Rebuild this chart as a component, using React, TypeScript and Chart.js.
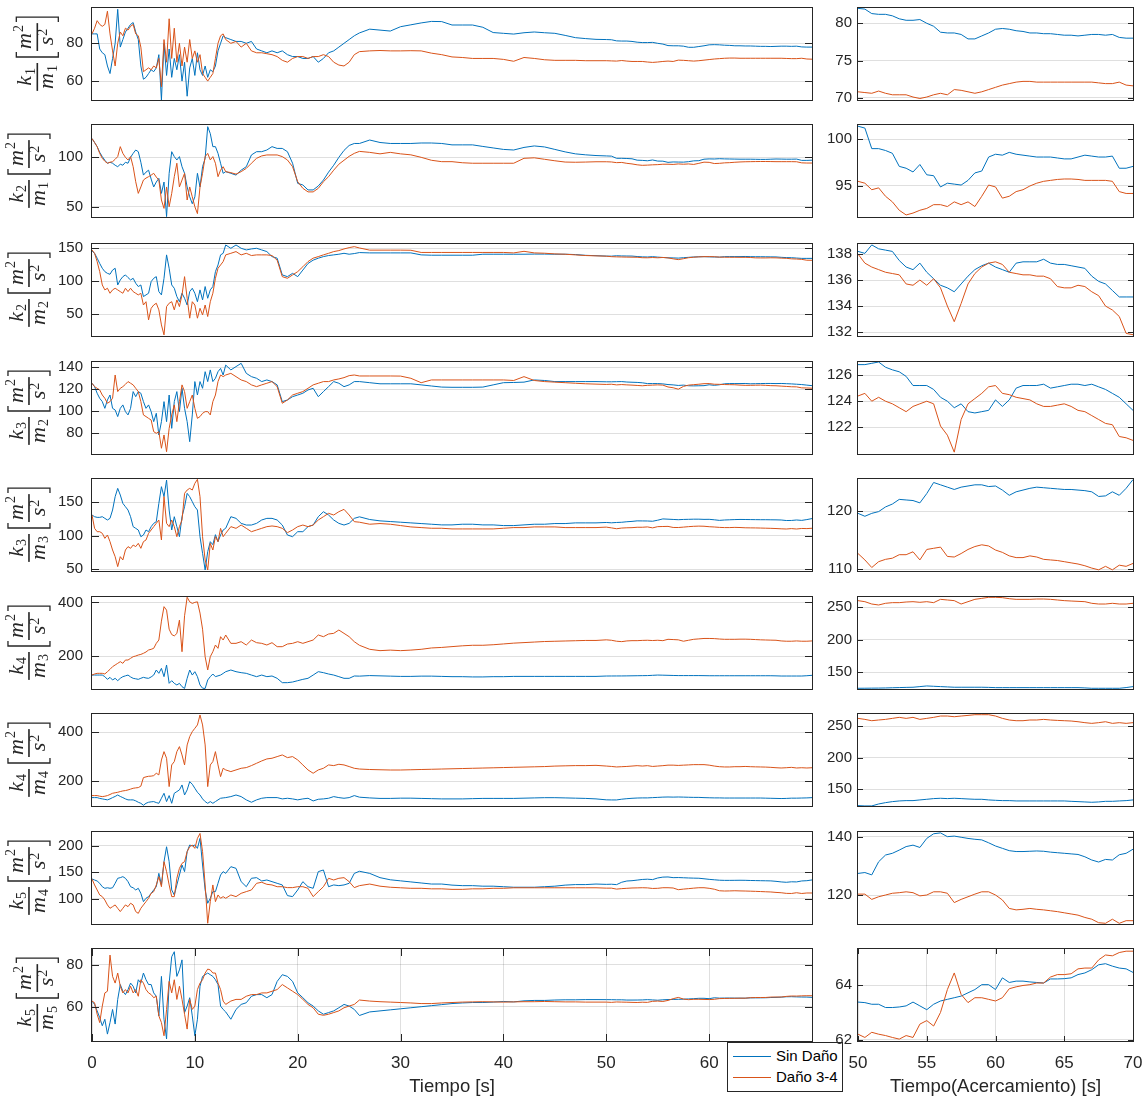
import React, { useEffect, useRef } from "react";
import { Chart, registerables } from "chart.js";
Chart.register(...registerables);

// ---------- time grid (seconds) ----------
const T_A = [0,0.25,0.5,0.75,1,1.25,1.5,1.75,2,2.25,2.5,2.75,3,3.25,3.5,3.75,4,4.25,4.5,4.75,5,5.25,5.5,5.75,6,6.25,6.5,6.75,7,7.25,7.5,7.75,8,8.25,8.5,8.75,9,9.25,9.5,9.75,10,10.25,10.5,10.75,11,11.25,11.5,11.75,12,12.25,12.5,12.75];
const T_B = [13,13.5,14,14.5,15,15.5,16,16.5,17,17.5,18,18.5,19,19.5,20,20.5,21,21.5,22,22.5,23,23.5,24,24.5,25,25.5];
const T_C = [26,27,28,29,30,31,32,33,34,35,36,37,38,39,40,41,42,43,44,45,46,47,48,49];
const T_D = [50,50.5,51,51.5,52,52.5,53,53.5,54,54.5,55,55.5,56,56.5,57,57.5,58,58.5,59,59.5,60,60.5,61,61.5,62,62.5,63,63.5,64,64.5,65,65.5,66,66.5,67,67.5,68,68.5,69,69.5,70];
const TIME = [...T_A, ...T_B, ...T_C, ...T_D];

// ---------- series: "Sin Daño" (blue) and "Daño 3-4" (orange) ----------
const R1_SIN = [
  85,85,85,77,75,74,68,64,72,80,98,78,82,86,88,90,91,86,82,68,61,62,64,66,65,67,74,50,80,63,77,62,72,66,74,60,70,52,67,72,63,75,66,63,68,62,66,65,68,76,80,84,
  83,82,81,81,80,81,77,76,75,76,75,76,74,73,73,72,72,73,70,72,75,76,78,80,82,84,
  85.5,87.5,87,86.5,88.8,89.8,90.8,91.6,91.5,89.7,89.7,89.7,88.5,85.7,85.3,84.9,85.6,86,85.6,85.3,84.2,83,82.5,82.1,
  82.0,81.9,81.3,81.2,81.2,81.0,80.6,80.4,80.4,80.5,80.0,79.6,78.8,78.7,78.7,78.5,77.9,77.9,78.3,78.7,79.2,79.3,79.2,79.0,78.9,78.7,78.7,78.6,78.6,78.5,78.4,78.4,78.3,78.4,78.5,78.5,78.4,78.5,78.1,78.0,78.0,
];
const R1_DANO = [
  85,88,92,90,89,90,97,85,76,68,80,86,84,88,87,89,90,85,84,78,65,66,67,66,68,67,72,57,82,70,93,72,88,70,80,68,78,70,82,72,76,70,74,64,62,60,62,64,72,80,84,85,
  82,80,81,78,80,76,75,75,74.5,74,73,71,70,72,73,73,72,73,73,74,73,70,68.5,68,70,74,
  75.6,76,76.2,76,76,76.1,76,74.8,74,72.8,72.5,72,72,72,71.5,70.5,72.5,72,71.3,71,71,71,70.8,70.8,
  70.8,70.7,70.6,70.9,70.6,70.4,70.4,70.4,70.1,69.9,70.1,70.4,70.6,70.4,71.1,71.0,70.8,70.6,70.8,71.1,71.4,71.7,71.9,72.1,72.2,72.2,72.1,72.1,72.1,72.1,72.1,72.1,72.1,72.1,72.1,72.0,71.9,71.9,72.1,71.7,71.6,
];
const R2_SIN = [
  119,115,110.8,105,100.7,97,94,95,94,92,90.5,93,92,95,94,100,104,107.4,105.7,95,82,85,87,78,70,75,78.7,63.5,75,40,83.8,105.7,100.7,97.3,100.7,90.5,83.8,70,60,53,60,83.8,70,90.5,99,131,124,110.8,110.8,104,94,83.8,
  85.5,83.8,82,87,90.5,102.4,105.7,105.7,107.4,110.8,109,109,105.7,94,73.6,72,67,67,71,77,85,92,100,107,112,114,
  114,117.5,115,114,114,114,114.5,114.5,114,112.6,112.6,112.6,111,109.5,108,107.4,110,111.5,110.5,108,105.5,103.5,102.5,101.8,
  101.4,101.2,99.0,99.0,98.8,98.5,97.1,96.9,96.5,97.3,96.2,96.1,94.9,95.3,95.2,95.1,95.6,96.4,96.6,98.1,98.4,98.3,98.6,98.4,98.3,98.2,98.1,98.1,98.1,98.0,97.9,97.9,98.1,98.3,98.2,98.1,98.1,98.2,96.9,96.9,97.1,
];
const R2_DANO = [
  119,115,110.8,104,99,96,94,95,95.6,98,100.7,110.8,104,100,97.3,100.7,90.5,75.3,63.5,70,77,79,80.4,82,83.8,80,77,56.8,48.3,70,50,63.5,80.4,94,70,77,83.8,56.8,70,60,50,43,70,83.8,100.7,104,97.3,100.7,94,80.4,87,90.5,
  85.5,84.5,83,85.5,88.8,94,99,101.4,102.4,102.4,102.4,100.7,97.3,90.5,75.3,68.6,65,65,68.6,75.3,80.4,87,93,97,101,104,
  106,105,103.5,105,103.5,102.5,100,97,95.6,95.6,94.5,94,94,94,94,94,99,99.5,98,96.5,95.2,95,95.2,95.5,
  95.5,95.3,94.6,94.8,93.9,93.3,92.4,91.9,92.1,92.4,92.6,93.0,93.0,92.8,93.3,93.0,93.3,92.8,93.9,95.1,94.9,93.7,93.9,94.4,94.6,95.0,95.3,95.5,95.6,95.7,95.75,95.75,95.7,95.6,95.6,95.6,95.6,95.5,94.4,94.2,94.2,
];
const R3_SIN = [
  146,142.4,135,127,119.7,114.6,112,110.6,117,119.7,94.4,102,107,109.6,105.6,102,104.5,97,92,94.4,76.8,79.3,81.8,99.5,104.5,107,84.3,79.3,104.5,140,119.7,94.4,89.4,76.8,69,81.8,74.2,64,84.3,89.4,81.8,69,86.9,71.7,92,74.2,86.9,92,114.6,124.7,140,142.4,
  155,150,155,150,147.5,149,150,147.5,145,137.4,135,109.6,107,112,107,117,127,132,135,137.4,139,140,141,142.4,141,142,
  143.5,143,143,143,143,143,140,139.5,139.5,139.5,139.5,139.5,141,141,141,141,141,141.2,141.2,141,141,140.5,139.3,138.8,
  138.2,138.05,138.7,138.4,138.3,138.2,137.5,137.0,136.8,137.3,136.6,136.1,135.6,135.4,135.1,135.7,136.3,136.8,137.1,137.3,137.0,136.8,136.6,137.3,137.4,137.4,137.4,137.6,137.3,137.2,137.2,137.1,137.0,136.9,136.3,135.9,135.7,135.2,134.7,134.7,134.7,
];
const R3_DANO = [
  147.5,142.4,129.8,114.6,94.4,86.9,89.4,81.8,86.9,89.4,86.9,84.3,81.8,89.4,84.3,89.4,84.3,81.8,79.3,81.8,64,69,41.4,59,64,66.7,56.6,33.8,18.7,61.6,66.7,69,56.6,71.7,61.6,79.3,107,74.2,44,69,64,44,59,49,64,46.5,69,81.8,104.5,119.7,124.7,129.8,
  140,142.4,145,140,142.4,139,140,140,140,139,132,107,104.5,109.6,114.6,122,129.8,135,137.4,140,142.4,145,146.5,149,151,152.5,
  150.5,147.2,147.2,147.2,147.2,147,143.7,143.7,143.7,143.7,143.7,143.7,143.7,143.7,143.7,143,145.4,143,142.5,141.5,141,140,139,138.5,
  138,137.3,137,136.8,136.6,136.5,136.4,135.7,135.6,136,135.6,136.1,135.4,134,132.8,134.2,135.7,136.5,137,137.3,137.4,137.2,136.6,136.5,136.4,136.4,136.3,136.3,136.1,135.5,135.4,135.4,135.6,135.5,135.1,134.8,134,133.7,133.2,131.9,131.8,
];
const R4_SIN = [
  125.5,122.4,116.4,111.8,108.8,102.7,110.3,114.8,102.7,101.2,95.2,102.7,105.8,99.7,96.7,102.7,117.9,113.3,117.9,116.4,108.8,102.7,105.8,99.7,90.6,98.2,78.5,90.6,108.8,90.6,114.8,84.5,108.8,117.9,99.7,120.9,102.7,90.6,72.4,96.7,127,114.8,127,120.9,136,127,137.6,127,130,136,139,133,
  142,137.6,140.6,143.6,134.5,131.5,130,127,128.5,127,124,108.8,110.3,113.3,114.8,116.4,119.4,120.9,113.3,117.9,122.4,127,125.5,122.4,124,127,
  127,126,125,125,125,125,124,123,122,121.8,121.8,121.8,122,124,126,126.2,126.5,128.5,128,127,127,127,127,127,
  126.8,126.8,126.9,127.0,126.6,126.4,126.25,125.9,125.2,125.2,125.2,124.9,124.3,124.0,123.5,123.8,123.2,123.1,123.2,123.3,124.1,123.6,124.1,125.0,125.2,125.2,125.2,125.3,125.0,125.1,125.2,125.3,125.3,125.2,125.3,125.1,124.9,124.6,124.3,123.8,123.3,
];
const R4_DANO = [
  125.5,122.4,120.9,119.4,114.8,111.8,107.3,108.8,111.8,133,117.9,120.9,122.4,124.5,127,125.5,124,120.9,117.9,108.8,96.7,95.2,93.6,92.1,81.5,80,81.5,66.4,78.5,63.3,84.5,96.7,105.8,90.6,108.8,124,117.9,102.7,108.8,114.8,102.7,93.6,95.2,98.2,99.7,99.7,96.7,108.8,114.8,127,133,131.5,
  133,134.5,131.5,128.5,127,124,122.4,124,125.5,127,122.4,107.3,110.3,114.8,116.4,117.9,120.9,124,125.5,127,127,128.5,129.4,130.6,132.4,133,
  132.1,132.1,132.1,132.1,132,130,126,128.5,128.5,128.5,128.5,128.5,128.5,128.5,128.5,128,131.5,128,127,126.5,126,125.5,125,124.7,
  124.4,124.6,124.0,124.3,124.0,123.8,123.5,123.2,123.6,123.8,124.0,123.8,122.1,121.4,120.1,122.6,123.8,124.2,124.6,125.1,125.2,124.6,124.5,124.3,124.2,124.1,123.8,123.6,123.6,123.7,123.8,123.6,123.3,123.2,122.9,122.6,122.3,122.2,121.3,121.2,121.0,
];
const R5_SIN = [
  130.7,128.2,127.2,127.2,128.2,125.7,123.3,125.7,138.1,157.9,170.3,160.4,148,143,138.1,128.2,113.4,110.9,108.4,98.5,101,108.4,105.9,113.4,118.3,120.8,148,172.8,157.9,182.7,138.1,108.4,128.2,113.4,98.5,128.2,143,162.9,157.9,150.5,143,138.1,98.5,73.8,49,76.2,91.1,86.6,101.5,91.1,101,108.4,
  111,128.2,125.7,118.3,115.8,115.8,118.3,123.3,125.7,125.7,123.3,115.8,101,98.5,105.9,105.9,113.4,115.8,128.2,135.6,130.7,123.3,118.3,115.8,118.3,125.7,
  128,124,122,121,120,119,118,117,116,116,117,117,116,116,115,115,116,117,117,118,118,119,119,119,
  119.6,119.1,119.6,119.9,120.7,121.2,122.0,121.9,121.8,121.4,123.0,124.9,124.5,124.1,123.7,124.1,124.3,124.5,124.5,124.2,124.3,123.6,122.7,123.3,123.6,123.9,124.1,124.0,123.9,123.8,123.7,123.7,123.6,123.5,123.3,122.5,122.6,123.3,122.7,123.9,125.4,
];
const R5_DANO = [
  130.7,110.9,105.9,105.9,103.5,96,101,91.1,78.7,68.8,54,68.8,63.9,78.7,83.7,81.2,86.1,83.7,88.6,81.2,91.1,93.6,103.5,108.4,113.4,118.3,123.3,93.6,157.9,118.3,113.4,123.3,113.4,98.5,113.4,123.3,162.9,167.8,170.3,167.8,177.7,183.7,157.9,98.5,63.9,49,88.6,78.7,98.5,91.1,110.9,98.5,
  103.5,113.4,110.9,115.8,110.9,105.9,108.4,110.9,113.4,114.4,113.4,110.9,104.5,108.4,113.4,115.8,113.4,115.8,123.3,128.2,133.2,130.7,135.6,139.1,130.7,120.8,
  120,117,118,117,115,113,112,111,111,110,110,110,110,110,111,112,112,113,113,113,112,112,112,112,
  112.7,111.6,110.3,111.3,111.7,111.9,112.5,112.5,113.0,111.6,113.4,113.6,113.8,112.2,112.1,112.7,113.4,113.9,114.2,114.0,113.3,112.9,112.3,112.0,112.0,112.3,112.1,111.7,111.6,111.5,111.3,111.1,110.9,110.6,110.2,109.9,110.5,109.9,110.7,110.5,111.0,
];
const R6_SIN = [
  129,129,129,129,129,123,113,120.5,110.6,116.8,108,116.8,123,126,129,122,116.8,115,113,117,120.5,118,116.8,122,129,147.8,135.4,154,123,166.5,98.1,108,98.1,92,98.1,85.7,79,116.8,147.8,129,141.6,123,92,80,79,110.6,123,132.9,123,126,129,135,
  141.6,147.8,141.6,137.9,135.4,129,123,129,123,125.5,116.8,100.6,100.6,103,108,113,116.8,129,141.6,137.9,132.9,129,123,116.8,116.8,125.5,
  125,127,126,125,124,124,125,125,124,123,123,122,122,123,123,124,124,124,124,124,124,124,124,124,
  125.4,125.5,125.6,125.7,125.9,126.2,126.5,126.8,127.0,128.0,129.0,128.5,128.0,127.5,127.0,127.0,127.0,127.0,127.0,126.8,126.4,126.4,126.4,126.4,126.4,126.4,126.4,126.4,126.4,126.4,126.4,126.4,126.4,126.0,125.4,125.4,125.4,125.4,125.4,126.5,128.0,
];
const R6_DANO = [
  129,133,135.4,135.4,135.4,133,141.6,150.3,160.3,166.5,172.7,178.9,172.7,185,185,191.3,197.5,200,203.7,206,210,215,222.4,225,228.6,247.2,259.6,330,384,371,300,280,275,284,334,216,350,419,402,396,400,402,360,300,197,148,197.5,216,241,228.6,272,259.6,
  278.3,247.2,247.2,253.4,241,259.6,249.7,247.2,241,249.7,234.8,234.8,244.7,247.2,253.4,247.2,253.4,259.6,278.3,272,282,284.5,296.9,284.5,272,253.4,
  240,225,220,222,220,222,225,230,232,235,238,240,240,242,245,248,250,252,254,255,256,257,258,258,
  260.3,258.7,255.1,253.6,256.2,257.2,257.2,258.2,258.7,257.7,258.7,257.2,262.3,261.3,260.3,255.1,258.7,262.3,263.8,265.4,265.4,264.9,263.3,262.3,262.3,262.3,262.8,262.8,262.3,261.3,260.3,259.7,259.2,258.7,256.2,255.1,255.1,256.2,255.1,255.1,256.2,
];
const R7_SIN = [
  133.3,133.3,133.3,130,128,126,124,128,133.3,138,144,138,133.3,128,124,124,124,120,114.3,110,102,110,114.3,116,117,113,110,130.6,151,117,141.5,110,151,157.8,164.6,185,144,164.6,198.6,187.8,171.4,155,144,128,117,110,117,110,117,124,130.6,132,
  133.3,137.4,144,137.4,124,114.3,124,130.6,133.3,133.3,133.3,128,130.6,128,124,128,130.6,119.7,126.5,128,130.6,137.4,133.3,130.6,133.3,141.5,
  135,132,130,130,131,131,130,129,128,128,128,129,130,130,130,130,131,132,133,133,132,131,130,128,
  124.2,123.7,123.7,126.8,128.9,130.5,131.6,132.1,132.1,133.2,134.2,135.3,135.8,135.3,135.8,135.3,134.7,134.2,134.2,133.2,132.6,132.1,132.1,131.6,131.6,131.6,131.6,131.6,131.6,131.6,131.6,131.0,130.5,130.0,129.5,130.0,131.0,131.0,131.6,132.1,133.2,
];
const R7_DANO = [
  141.5,141.5,141.5,139,137.4,139,141.5,146,151,153,155,158,160.6,162,164.6,168,171.4,173,174.2,180,215,218,220.4,221,223,232.7,226,287,321,293.9,178.2,266.7,280.3,321,341.5,307.5,266.7,348.3,382.3,402.7,416.3,430,470.7,430,348.3,178.2,266.7,280.3,321,266.7,219,253,
  246.3,239.5,246.3,253,255.8,264,273.5,283,291.2,294,300.7,307.5,296.6,300.7,287,266.7,246.3,232.7,246.3,253,266.7,264,269.4,266.7,260,253,
  250,248,247,246,246,247,248,249,250,251,252,253,254,255,256,257,258,259,260,262,263,264,264,265,
  262.1,260.5,258.4,259.5,260.5,262.1,263.7,262.1,263.7,260.5,262.1,263.7,265.8,265.8,264.7,265.8,266.8,267.9,267.9,267.9,265.8,262.1,259.5,258.4,258.4,259.5,259.5,260.5,259.5,258.9,258.4,257.9,256.8,255.3,254.2,255.3,256.8,254.2,255.3,254.2,255.3,
];
const R8_SIN = [
  137.5,135.6,133.7,129.4,123,120,121,120,121,129.4,138.8,140,141.9,138.8,132.5,123,121,116.9,120,110.6,95,101.3,104.4,110.6,116.9,123,148.1,126.3,170,198,170,116.9,107.5,126.3,145,163.8,151.3,188.8,201.3,199.4,201.3,195,213.8,163.8,116.9,91.9,101.3,113.8,113.8,129.4,145,151.3,
  148.1,160.6,157.5,132.5,123,138.8,140,133.8,135.6,132.5,129.4,126.3,106.3,104.4,116.9,132.5,123,120,151.3,154.4,123,126.3,125,126.3,129.4,148,
  152,148,140,136,134,132,130,128,128,126,125,125,124,124,123,122,122,122,123,124,126,127,127,128,
  127.4,127.7,126.9,131.4,133.7,134.3,135.4,136.6,137.1,136.3,139.4,141.0,141.3,140.0,140.2,139.8,139.4,139.1,138.9,137.9,136.8,136.0,135.2,134.9,134.9,135.0,135.1,135.0,134.7,134.5,134.3,134.1,133.9,133.1,132.0,131.3,132.2,132.0,133.8,134.3,135.7,
];
const R8_DANO = [
  137.5,126.3,116.9,107.5,104.4,98,88.8,82.5,85.6,88.8,82.5,76.3,82.5,88.8,85.6,92,88.8,76.3,73,82.5,88.8,95,101.3,110.6,113.8,126.3,141.9,123,170,151.3,126.3,104.4,104.4,138.8,157.5,166.9,170,188.8,198.1,201.3,195,213.8,223,188.8,126.3,54.4,95,126.3,95,107.5,101.3,104.4,
  101.3,107.5,104.4,110.6,113.8,116.9,129.4,131.3,127.5,126.3,123,123,121.3,121.3,123,123,120,104.4,113.8,123,138.8,135.6,138.8,140,132.5,121.3,
  125,128,124,122,121,120,120,119,119,118,118,119,119,120,120,121,121,121,121,121,121,121,121,121,
  120.3,120.3,118.5,119.4,120.0,120.6,120.8,121.1,120.8,119.7,120.0,121.1,121.1,120.6,117.4,118.5,119.4,120.3,121.1,121.1,120.0,118.3,115.4,114.9,115.1,115.4,115.1,114.9,114.6,114.3,113.9,113.5,113.1,112.3,111.7,110.5,110.3,111.7,110.3,111.2,111.2,
];
const R9_SIN = [
  62.7,61.1,58,54.8,50.9,54,46.9,52.4,58.7,51.7,63.5,70.6,67.4,65.8,68.2,71.3,69.8,66.6,72.9,71.3,76.1,72.9,70.6,70.6,66.6,65,55.6,74.5,54,44.6,71.3,83.9,86.3,74.5,77.6,82.4,57.2,60.3,64.3,55.6,46.1,54,69.8,74.5,75.3,76.1,75.3,74.5,72.9,70.6,60.3,58.7,
  57.5,54,58.7,61.1,61.9,65,65.8,65.8,64.3,65.8,72.1,75.3,74.5,72.1,66.6,64.3,61.9,60.3,58,56.4,57.2,58,59.5,61.1,60.3,58.7,
  55.8,57.5,58,58.5,59,59.5,60,60.5,61,61.5,61.8,62,62,62.2,62.5,62.3,62.8,63,63,63.2,63.3,63.3,63.4,63.4,
  63.38,63.36,63.3,63.3,63.18,63.18,63.2,63.24,63.38,63.24,63.1,63.3,63.42,63.48,63.54,63.6,63.72,63.84,64.02,64.02,63.84,64.27,64.1,64.15,64.15,64.12,64.1,64.08,64.23,64.23,64.24,64.27,64.39,64.45,64.57,64.75,64.79,64.7,64.63,64.6,64.47,
];
const R9_DANO = [
  62.7,61.9,56.4,52.4,60.3,66.6,67.4,84.7,74.5,71.3,76.1,69.8,66.6,68.2,66.6,69.8,66.6,68.2,65,72.9,71.3,68.2,66.6,65.8,64.3,65,55.6,52.4,46.1,58.7,72.1,66.6,72.9,63.5,69.8,63.5,56.4,49.3,63.5,58.7,60.3,68.2,71.3,72.9,76.1,78,77.6,76.1,76.1,71.3,68.2,62.7,
  61.1,62.7,63.5,63.5,65,65.8,65.8,66.6,66.6,67.4,68.2,70.6,69,67.4,65.8,63.5,61.1,59.5,56.4,55.9,56.4,57.2,58,59.5,60.3,61.1,
  63.2,62.7,62.4,62.2,62,61.8,61.5,61.5,61.8,62,62.2,62.3,62.4,62.3,62.2,62.3,62.4,62.4,62.5,62.4,62.3,62.3,62.2,62.2,
  62.2,62.08,62.27,62.2,62.15,62.08,62.02,62.15,62.08,62.57,62.7,62.5,63.0,63.84,64.45,63.66,63.36,63.54,63.54,63.48,63.42,63.54,63.87,63.94,63.99,64.02,64.08,64.08,64.3,64.39,64.39,64.42,64.6,64.63,64.63,64.93,65.11,65.08,65.2,65.25,65.25,
];

const SERIES_SIN = [R1_SIN, R2_SIN, R3_SIN, R4_SIN, R5_SIN, R6_SIN, R7_SIN, R8_SIN, R9_SIN];
const SERIES_DANO = [R1_DANO, R2_DANO, R3_DANO, R4_DANO, R5_DANO, R6_DANO, R7_DANO, R8_DANO, R9_DANO];

// ---------- axes ----------
const LEFT_YLIM = [[50, 98.7], [39.6, 132.7], [17, 156.5], [61.2, 144.8], [47.5, 184.2], [77, 420], [99, 474.7], [53, 225.7], [43.6, 87.6]];
const LEFT_YTICKS = [[60, 80], [50, 100], [50, 100, 150], [80, 100, 120, 140], [50, 100, 150], [200, 400], [200, 400], [100, 150, 200], [60, 80]];
const RIGHT_YLIM = [[69.7, 82.05], [91.68, 101.53], [131.7, 138.77], [119.96, 127], [109.7, 125.5], [124.3, 265.9], [123.6, 269], [110.06, 141.6], [61.95, 65.33]];
const RIGHT_YTICKS = [[70, 75, 80], [95, 100], [132, 134, 136, 138], [122, 124, 126], [110, 120], [150, 200, 250], [150, 200, 250], [120, 140], [62, 64]];
const K_SUB = ["1", "2", "2", "3", "3", "4", "4", "5", "5"];
const M_SUB = ["1", "1", "2", "2", "3", "3", "4", "4", "5"];
const X_TICKS_LEFT = [0, 10, 20, 30, 40, 50, 60, 70];
const X_TICKS_RIGHT = [50, 55, 60, 65, 70];
const LEGEND_LABELS = ["Sin Daño", "Daño 3-4"];

const ROW_TOPS = [8, 125, 244, 362, 479, 597, 714, 832, 949];
const PANEL_H = 92;
const PAD_TOP = 10;
const BLUE = "#0072BD";
const ORANGE = "#D95319";
const INK = "#262626";
const GRID = "rgba(38,38,38,0.15)";
const SANS = '"Liberation Sans", Arial, Helvetica, sans-serif';
const SERIF = '"Liberation Serif", "Times New Roman", serif';

function drawYLabel(ctx: CanvasRenderingContext2D, cx: number, cy: number, kSub: string, mSub: string) {
  const MAIN = "italic 22px " + SERIF;
  const SMALL = "14px " + SERIF;
  ctx.save();
  ctx.translate(cx, cy);
  ctx.rotate(-Math.PI / 2);
  ctx.fillStyle = INK;
  ctx.strokeStyle = INK;
  ctx.textBaseline = "alphabetic";
  ctx.textAlign = "left";
  const mw = (t: string, f: string) => { ctx.font = f; return ctx.measureText(t).width; };
  const kW = mw("k", MAIN), mW = mw("m", MAIN), sW = mw("s", MAIN);
  const kS = mw(kSub, SMALL), mS = mw(mSub, SMALL), two = mw("2", SMALL);
  const num1 = kW + kS + 1, den1 = mW + mS + 1;
  const W1 = Math.max(num1, den1) + 4;
  const num2 = mW + two + 1, den2 = sW + two + 1;
  const W2 = Math.max(num2, den2) + 4;
  const GAP = 6, BR = 5, H = 21;
  const total = W1 + GAP + BR + 1 + W2 + 1 + BR;
  const NUM_BASE = -6, DEN_BASE = 16;
  const bar = (x0: number, w: number) => ctx.fillRect(x0, -0.8, w, 1.6);
  let x = -total / 2;
  bar(x, W1);
  let nx = x + (W1 - num1) / 2;
  ctx.font = MAIN; ctx.fillText("k", nx, NUM_BASE);
  ctx.font = SMALL; ctx.fillText(kSub, nx + kW + 1, NUM_BASE + 3.5);
  let dx = x + (W1 - den1) / 2;
  ctx.font = MAIN; ctx.fillText("m", dx, DEN_BASE);
  ctx.font = SMALL; ctx.fillText(mSub, dx + mW + 1, DEN_BASE + 3.5);
  x += W1 + GAP;
  ctx.lineWidth = 1.3;
  ctx.beginPath(); ctx.moveTo(x + BR, -H); ctx.lineTo(x, -H); ctx.lineTo(x, H); ctx.lineTo(x + BR, H); ctx.stroke();
  x += BR + 1;
  bar(x, W2);
  nx = x + (W2 - num2) / 2;
  ctx.font = MAIN; ctx.fillText("m", nx, NUM_BASE);
  ctx.font = SMALL; ctx.fillText("2", nx + mW + 1, NUM_BASE - 8);
  dx = x + (W2 - den2) / 2;
  ctx.font = MAIN; ctx.fillText("s", dx, DEN_BASE);
  ctx.font = SMALL; ctx.fillText("2", dx + sW + 1, DEN_BASE - 6);
  x += W2 + 1;
  ctx.beginPath(); ctx.moveTo(x, -H); ctx.lineTo(x + BR, -H); ctx.lineTo(x + BR, H); ctx.lineTo(x, H); ctx.stroke();
  ctx.restore();
}

function zeroPad(ax: any) {
  ax.paddingTop = 0;
  ax.paddingBottom = 0;
  ax.paddingLeft = 0;
  ax.paddingRight = 0;
}

function Panel({ row, side }: { row: number; side: "L" | "R" }) {
  const ref = useRef<HTMLCanvasElement>(null);
  const isLeft = side === "L";
  const isBottom = row === 8;
  const top = ROW_TOPS[row] - PAD_TOP;
  const left = isLeft ? 0 : 820;
  const width = isLeft ? 830 : 326;
  const height = isBottom ? 1101 - top : PANEL_H + 2 * PAD_TOP;

  useEffect(() => {
    const canvas = ref.current;
    if (!canvas) return;
    const yAxisW = isLeft ? 92 : 38;
    const tickPad = isLeft ? 9 : 6;
    const tickLen = isLeft ? 7 : 5;
    const ylim = isLeft ? LEFT_YLIM[row] : RIGHT_YLIM[row];
    const yticks = isLeft ? LEFT_YTICKS[row] : RIGHT_YTICKS[row];
    const xticks = isLeft ? X_TICKS_LEFT : X_TICKS_RIGHT;
    const xmin = isLeft ? 0 : 50;
    const sin = SERIES_SIN[row].map((v, i) => ({ x: TIME[i], y: v }));
    const dano = SERIES_DANO[row].map((v, i) => ({ x: TIME[i], y: v }));

    const framePlugin = {
      id: "frame",
      afterDatasetsDraw(chart: any) {
        const { ctx, chartArea } = chart;
        const { left: l, right: r, top: t, bottom: b } = chartArea;
        ctx.save();
        ctx.strokeStyle = INK;
        ctx.lineWidth = 1;
        const ys = chart.scales.y;
        ctx.beginPath();
        for (const v of yticks) {
          const py = Math.round(ys.getPixelForValue(v)) + 0.5;
          ctx.moveTo(l, py); ctx.lineTo(l + tickLen, py);
          ctx.moveTo(r, py); ctx.lineTo(r - tickLen, py);
        }
        if (isBottom) {
          const xs = chart.scales.x;
          for (const v of xticks) {
            const px = Math.round(xs.getPixelForValue(v)) + 0.5;
            ctx.moveTo(px, b); ctx.lineTo(px, b - tickLen);
            ctx.moveTo(px, t); ctx.lineTo(px, t + tickLen);
          }
        }
        ctx.stroke();
        ctx.strokeRect(Math.round(l) - 0.5, Math.round(t) - 0.5, Math.round(r - l) + 1, Math.round(b - t) + 1);
        ctx.restore();
      },
    };
    const labelPlugin = {
      id: "ylabel",
      afterDraw(chart: any) {
        if (!isLeft) return;
        const ctx = chart.ctx as CanvasRenderingContext2D;
        ctx.save();
        ctx.font = "15px " + SANS;
        let maxW = 0;
        for (const v of yticks) maxW = Math.max(maxW, ctx.measureText(String(v)).width);
        ctx.restore();
        const tickLeft = chart.chartArea.left - tickPad - maxW;
        const cx = tickLeft - 29;
        const cy = (chart.chartArea.top + chart.chartArea.bottom) / 2;
        drawYLabel(ctx, cx, cy, K_SUB[row], M_SUB[row]);
      },
    };

    const chart = new Chart(canvas, {
      type: "line",
      data: {
        datasets: [
          { label: LEGEND_LABELS[0], data: sin, borderColor: BLUE, backgroundColor: BLUE, borderWidth: 1, pointRadius: 0, tension: 0, order: 1 },
          { label: LEGEND_LABELS[1], data: dano, borderColor: ORANGE, backgroundColor: ORANGE, borderWidth: 1, pointRadius: 0, tension: 0, order: 0 },
        ],
      },
      options: {
        animation: false,
        responsive: false,
        devicePixelRatio: 1,
        events: [],
        layout: { padding: { left: 0, right: isLeft ? 18 : 13, top: PAD_TOP, bottom: isBottom ? 0 : PAD_TOP } },
        plugins: { legend: { display: false }, tooltip: { enabled: false } },
        scales: {
          x: {
            type: "linear",
            min: xmin,
            max: 70,
            display: isBottom,
            afterBuildTicks: (ax: any) => { ax.ticks = xticks.map((v) => ({ value: v })); },
            afterFit: (ax: any) => { ax.height = isBottom ? height - PAD_TOP - PANEL_H : 0; zeroPad(ax); },
            grid: { color: GRID, drawTicks: false, lineWidth: 1 },
            border: { display: false },
            ticks: { color: INK, font: { family: SANS, size: 17 }, padding: 12, maxRotation: 0, autoSkip: false, callback: (v: any) => String(v) },
            title: { display: true, text: isLeft ? "Tiempo [s]" : "Tiempo(Acercamiento) [s]", color: INK, font: { family: SANS, size: 18.5 }, padding: { top: 0, bottom: 3 } },
          },
          y: {
            type: "linear",
            min: ylim[0],
            max: ylim[1],
            afterBuildTicks: (ax: any) => { ax.ticks = yticks.map((v) => ({ value: v })); },
            afterFit: (ax: any) => { ax.width = yAxisW; zeroPad(ax); },
            grid: { color: GRID, drawTicks: false, lineWidth: 1 },
            border: { display: false },
            ticks: { color: INK, font: { family: SANS, size: 15 }, padding: tickPad, autoSkip: false, callback: (v: any) => String(v) },
          },
        },
      } as any,
      plugins: [framePlugin, labelPlugin],
    });
    return () => chart.destroy();
  }, []);

  return <canvas ref={ref} width={width} height={height} style={{ position: "absolute", left, top, width, height }} />;
}

function Legend() {
  const rowStyle = (y: number): React.CSSProperties => ({ position: "absolute", left: 0, top: y, width: "100%", height: 20 });
  const line = (c: string): React.CSSProperties => ({ position: "absolute", left: 5, top: 10, width: 38, height: 0, borderTop: `1px solid ${c}` });
  const text: React.CSSProperties = { position: "absolute", left: 48, top: 1, lineHeight: "18px", whiteSpace: "nowrap" };
  return (
    <div style={{ position: "absolute", left: 727, top: 1042, width: 116, height: 50, boxSizing: "border-box", border: `1px solid ${INK}`, background: "#fff", font: `15px ${SANS}`, color: "#000" }}>
      <div style={rowStyle(3)}><div style={line(BLUE)} /><span style={text}>{LEGEND_LABELS[0]}</span></div>
      <div style={rowStyle(24)}><div style={line(ORANGE)} /><span style={text}>{LEGEND_LABELS[1]}</span></div>
    </div>
  );
}

export default function App() {
  const rows = [0, 1, 2, 3, 4, 5, 6, 7, 8];
  return (
    <div style={{ position: "absolute", left: 0, top: 0, width: 1146, height: 1101, background: "#fff", overflow: "hidden" }}>
      {rows.map((r) => <Panel key={"L" + r} row={r} side="L" />)}
      <Legend />
      {rows.map((r) => <Panel key={"R" + r} row={r} side="R" />)}
    </div>
  );
}
